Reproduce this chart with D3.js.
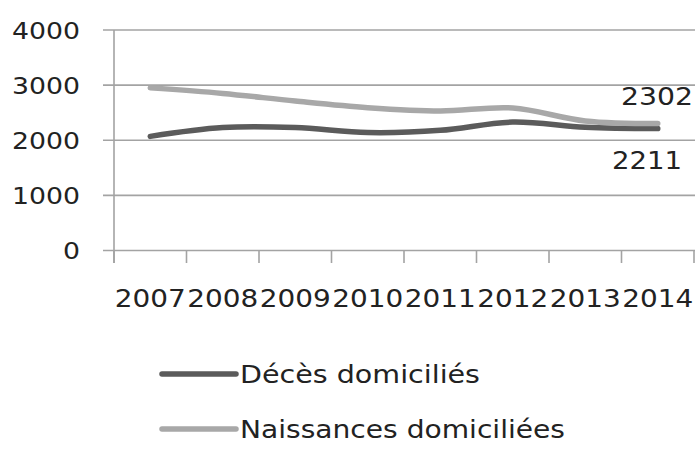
<!DOCTYPE html>
<html><head><meta charset="utf-8">
<script src="https://cdn.jsdelivr.net/npm/d3@7"></script>
<style>html,body{margin:0;padding:0;background:#fff;}svg{display:block;}</style>
</head><body>
<svg id="c" width="696" height="449"></svg>
<script>
const years = ["2007","2008","2009","2010","2011","2012","2013","2014"];
const deces = [2070, 2230, 2230, 2140, 2180, 2330, 2235, 2211];
const naissances = [2950, 2850, 2710, 2590, 2530, 2585, 2350, 2302];
const yTicks = [0, 1000, 2000, 3000, 4000];
const seriesNames = ["Décès domiciliés", "Naissances domiciliées"];
const seriesColors = ["#5b5b5b", "#a8a8a8"];

(function () {
const svg = d3.select("#c");
const font = "'DejaVu Sans', sans-serif";
const pLeft = 114, pRight = 694, pTop = 30, pBottom = 250.5;

const x = d3.scaleBand().domain(years).range([pLeft, pRight]).padding(0);
const y = d3.scaleLinear().domain([0, 4000]).range([pBottom, pTop]);

// gridlines
svg.append("g").selectAll("line").data(yTicks).join("line")
  .attr("x1", 103).attr("x2", 695)
  .attr("y1", d => y(d)).attr("y2", d => y(d))
  .attr("stroke", "#a3a3a3").attr("stroke-width", 1.6);

// y axis line
svg.append("line").attr("x1", pLeft).attr("x2", pLeft).attr("y1", pTop).attr("y2", 263)
  .attr("stroke", "#a3a3a3").attr("stroke-width", 1.6);

// x ticks at band boundaries
const bounds = years.map(d => x(d)).concat([pRight]);
svg.append("g").selectAll("line").data(bounds).join("line")
  .attr("x1", d => d).attr("x2", d => d).attr("y1", pBottom).attr("y2", 263)
  .attr("stroke", "#a3a3a3").attr("stroke-width", 1.6);

// y labels
svg.append("g").selectAll("text").data(yTicks).join("text")
  .attr("x", 80).attr("y", d => y(d) + 8.5)
  .attr("text-anchor", "end")
  .attr("font-family", font).attr("font-size", 23).attr("fill", "#222")
  .attr("textLength", d => String(d).length * 17).attr("lengthAdjust", "spacingAndGlyphs")
  .text(d => d);

// x labels
svg.append("g").selectAll("text").data(years).join("text")
  .attr("x", d => x(d) + x.bandwidth() / 2).attr("y", 307)
  .attr("text-anchor", "middle")
  .attr("font-family", font).attr("font-size", 24).attr("fill", "#222")
  .attr("textLength", 71).attr("lengthAdjust", "spacingAndGlyphs")
  .text(d => d);

const line = d3.line()
  .x((d, i) => x(years[i]) + x.bandwidth() / 2)
  .y(d => y(d))
  .curve(d3.curveCatmullRom.alpha(0.5));

[deces, naissances].forEach((s, k) => {
  svg.append("path").attr("d", line(s))
    .attr("fill", "none").attr("stroke", seriesColors[k])
    .attr("stroke-width", 5.5).attr("stroke-linecap", "round");
});

// end labels
svg.append("text").attr("x", 693).attr("y", y(naissances[7]) - 18.5)
  .attr("text-anchor", "end").attr("font-family", font).attr("font-size", 24).attr("fill", "#222")
  .attr("textLength", 72).attr("lengthAdjust", "spacingAndGlyphs")
  .text(naissances[7]);
svg.append("text").attr("x", 682).attr("y", y(deces[7]) + 40)
  .attr("text-anchor", "end").attr("font-family", font).attr("font-size", 24).attr("fill", "#222")
  .attr("textLength", 70).attr("lengthAdjust", "spacingAndGlyphs")
  .text(deces[7]);

// legend
const legY = [374, 429];
const legLen = [240, 325];
seriesNames.forEach((n, k) => {
  svg.append("line").attr("x1", 162).attr("x2", 236).attr("y1", legY[k]).attr("y2", legY[k])
    .attr("stroke", seriesColors[k]).attr("stroke-width", 5.5).attr("stroke-linecap", "round");
  svg.append("text").attr("x", 240).attr("y", legY[k] + 9)
    .attr("font-family", font).attr("font-size", 24).attr("fill", "#222")
    .attr("textLength", legLen[k]).attr("lengthAdjust", "spacingAndGlyphs")
    .text(n);
});
})();
</script>
</body></html>
